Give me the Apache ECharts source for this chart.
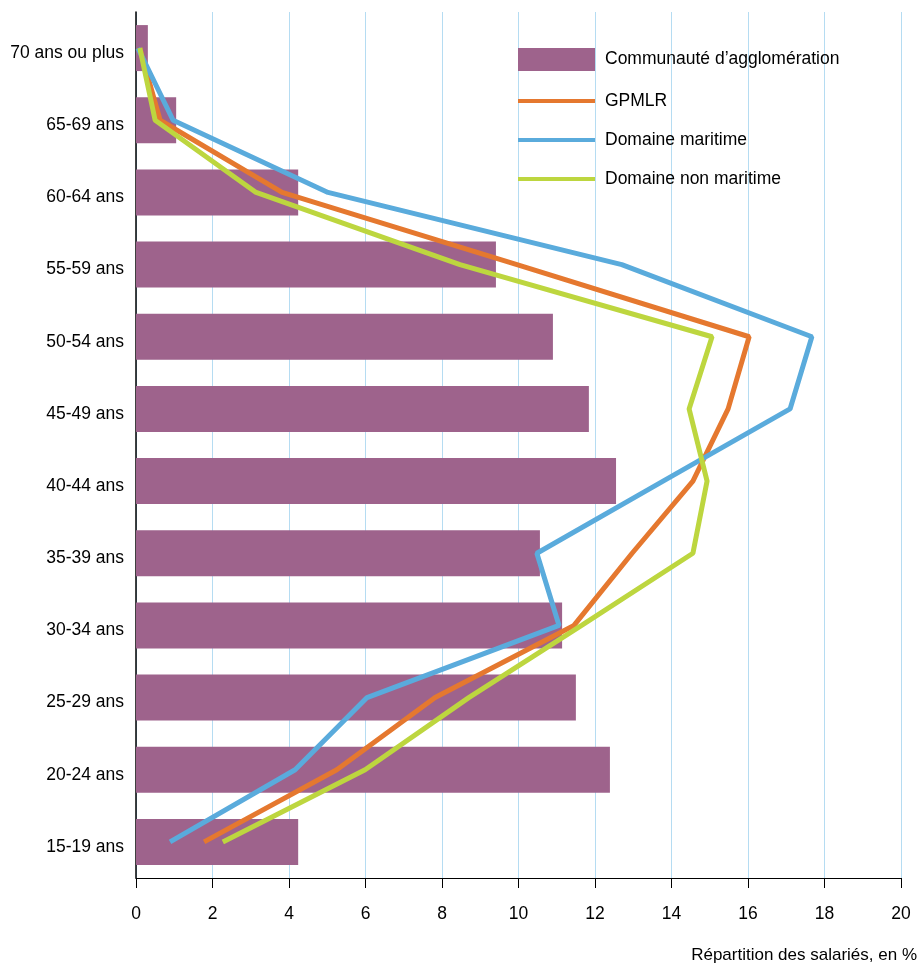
<!DOCTYPE html>
<html>
<head>
	<meta charset="utf-8">
	<title>Répartition des salariés par âge</title>
	<style type="text/css">
		body{
			margin: 0px;
		}
		.chart{
			width: 917px;
			height: 965px;
		}
	</style>
	<script type="text/javascript" src="https://cdn.jsdelivr.net/npm/echarts@6/dist/echarts.min.js"></script>
</head>
<body>
	<div id="chart" class="chart"></div>
	<script type="text/javascript">
		// tranches d'âge, du haut vers le bas
		var ages = ['70 ans ou plus', '65-69 ans', '60-64 ans', '55-59 ans', '50-54 ans', '45-49 ans',
			'40-44 ans', '35-39 ans', '30-34 ans', '25-29 ans', '20-24 ans', '15-19 ans'];
		var agglo = [0.31, 1.05, 4.24, 9.41, 10.9, 11.84, 12.55, 10.56, 11.14, 11.5, 12.39, 4.24];
		var gpmlr = [0.1, 0.63, 3.82, 9.96, 16.03, 15.48, 14.56, 12.97, 11.45, 7.82, 5.25, 1.78];
		var maritime = [0.05, 0.97, 5.02, 12.7, 17.67, 17.1, 13.78, 10.48, 11.06, 6.04, 4.16, 0.89];
		var nonMaritime = [0.1, 0.5, 3.14, 8.47, 15.06, 14.46, 14.93, 14.56, 11.65, 8.7, 5.99, 2.27];

		window.onload = function(){
			var chart = echarts.init(document.getElementById('chart'));
			var font = 'Liberation Sans, Arial, sans-serif';
			var lineIcon = 'path://M0,0 H77 V4 H0 Z';
			function lineSerie(name, data, color){
				return {
					name: name,
					type: 'line',
					data: data,
					symbol: 'none',
					color: color,
					lineStyle: {
						width: 5,
						color: color
					},
					z: 3
				};
			}
			chart.setOption({
				animation: false,
				backgroundColor: '#ffffff',
				textStyle: {
					fontFamily: font
				},
				title: {
					text: 'Répartition des salariés, en %',
					right: 0,
					bottom: 1,
					padding: 0,
					textStyle: {
						fontFamily: font,
						fontSize: 17,
						fontWeight: 'normal',
						color: '#000'
					}
				},
				legend: {
					orient: 'vertical',
					left: 518,
					top: 48,
					padding: 0,
					itemWidth: 77,
					itemHeight: 23,
					itemGap: 21,
					textStyle: {
						fontFamily: font,
						fontSize: 17.5,
						color: '#000',
						padding: [0, 0, 0, 5]
					},
					data: [
						{ name: 'Communauté d’agglomération', icon: 'rect' },
						{ name: 'GPMLR', icon: lineIcon },
						{ name: 'Domaine maritime', icon: lineIcon },
						{ name: 'Domaine non maritime', icon: lineIcon }
					]
				},
				grid: {
					left: 136,
					right: 16,
					top: 12,
					bottom: 87,
					containLabel: false
				},
				xAxis: {
					type: 'value',
					min: 0,
					max: 20,
					interval: 2,
					axisLine: {
						show: true,
						lineStyle: { color: '#000', width: 1 }
					},
					axisTick: {
						show: true,
						length: 10,
						lineStyle: { color: '#000' }
					},
					axisLabel: {
						fontFamily: font,
						fontSize: 17.5,
						color: '#000',
						margin: 27
					},
					splitLine: {
						show: true,
						lineStyle: { color: '#b5dcf2', width: 1 }
					}
				},
				yAxis: {
					type: 'category',
					inverse: true,
					data: ages,
					axisLine: {
						show: true,
						onZero: false,
						lineStyle: { color: '#000', width: 1.5 }
					},
					axisTick: { show: false },
					axisLabel: {
						fontFamily: font,
						fontSize: 17.5,
						color: '#000',
						margin: 12,
						verticalAlign: 'top',
						lineHeight: 10
					},
					splitLine: { show: false }
				},
				series: [
					{
						name: 'Communauté d’agglomération',
						type: 'bar',
						data: agglo,
						barWidth: 46,
						itemStyle: {
							color: '#9e638c'
						},
						z: 2
					},
					lineSerie('GPMLR', gpmlr, '#e5782f'),
					lineSerie('Domaine maritime', maritime, '#5aabdc'),
					lineSerie('Domaine non maritime', nonMaritime, '#bdd63f')
				]
			});
		}
	</script>
</body>
</html>
